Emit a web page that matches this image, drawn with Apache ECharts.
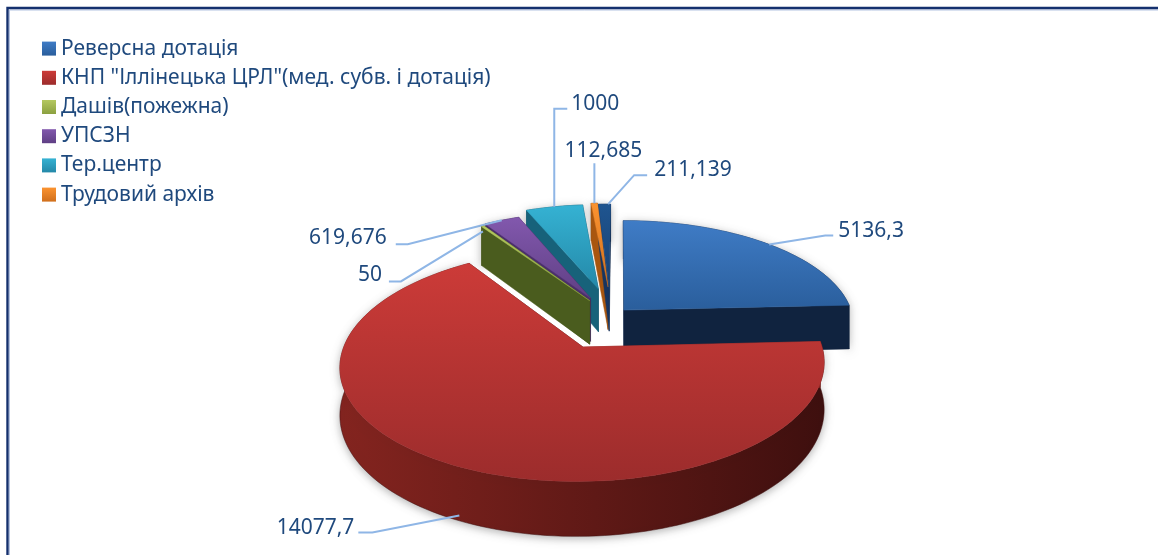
<!DOCTYPE html>
<html><head><meta charset="utf-8">
<style>html,body{margin:0;padding:0;background:#fff}#c{width:1158px;height:555px}</style>
<script src="https://cdn.jsdelivr.net/npm/echarts@6/dist/echarts.min.js"></script>
</head><body><div id="c"></div>
<script>
const categories = ['Реверсна дотація','КНП "Іллінецька ЦРЛ"(мед. субв. і дотація)','Дашів(пожежна)','УПСЗН','Тер.центр','Трудовий архів',''];
const values = [5136.3,14077.7,50,619.676,1000,112.685,211.139];

// drawing configuration: how far each slice is pulled out of the pie, in radius units
const explode = [[0.017,0.142],[-0.155,-0.1995],[-0.135,0.235],[-0.132,0.262],[-0.098,0.354],[-0.054,0.375],[-0.049,0.36]];
const topColors = [['#3f7cc6','#2a5e9c'],['#cc3b38','#9c2c2c'],['#b4c860','#8ba040'],['#8258ad','#5f3f84'],['#35b2d3','#2488a8'],['#fb9330','#d06f1c'],['#1f5590','#173f70']];
const wallColors = [['#13294b','#10233f'],['#84241f','#3e0f0e'],['#4a5c1e','#3c4e1a'],['#4b2f6b','#2f1d47'],['#17627a','#0f4658'],['#a9560f','#6f380a'],['#173560','#0f2444']];
const labelLayout = [
  {t:0.517,z:0,   d:[56,-9],  e:[8,0],  tx:[69,-13],anchor:'left'},
  {t:0.493,z:0.9, d:[-87,17], e:[-14,0],tx:[-105,13],anchor:'right'},
  {t:0.5,  z:0.13,d:[-82,50], e:[-12,0],tx:[-101,44],anchor:'right'},
  {t:0.5,  z:0,   d:[-94,24], e:[-12,0],tx:[-115,18],anchor:'right'},
  {t:0.5,  z:0,   d:[0,-98],  e:[13,0], tx:[17,-103],anchor:'left'},
  {t:0.5,  z:0,   d:[0,-40],  e:null,   tx:[9,-52],anchor:'middle'},
  {t:0.8,  z:0,   d:[26,-29], e:[13,0], tx:[46,-34],anchor:'left'}
];
const cx=620, cy=325, Rx=232, Ry=107, k=0.15, D=45;
const labelFont='21px "Noto Sans"';

const total = values.reduce((a,b)=>a+b,0);
const starts = []; values.reduce((a,v,i)=>{starts[i]=a;return a+v/total*Math.PI*2;},0);
function proj(U,V,z){const s=1/(1+k*V);return [cx+Rx*U*s, cy-Ry*V*s+z*D*s];}
function lg(x,y,x2,y2,c){return new echarts.graphic.LinearGradient(x,y,x2,y2,[{offset:0,color:c[0]},{offset:1,color:c[1]}]);}

function renderSlice(idx){
  return function(params,api){
    const val=api.value(0);
    const a0=starts[idx], a1=a0+val/total*Math.PI*2;
    const ou=explode[idx][0], ov=explode[idx][1];
    const rim=(t,z)=>proj(ou+Math.sin(t),ov+Math.cos(t),z);
    const apex=z=>proj(ou,ov,z);
    const n=Math.max(2,Math.ceil((a1-a0)/0.03));
    const arcTop=[],arcBot=[];
    for(let i=0;i<=n;i++){const t=a0+(a1-a0)*i/n;arcTop.push(rim(t,0));arcBot.push(rim(t,1));}
    const kids=[];
    const poly=(pts,fill,z2,extra)=>kids.push({type:'polygon',shape:{points:pts},style:Object.assign({fill:fill,stroke:fill,lineWidth:0.5},extra||{}),z2:z2,silent:true});
    const wallFill=lg(0,0,1,0,wallColors[idx]);
    poly(arcTop.concat(arcBot.slice().reverse()),wallFill,0,{stroke:wallColors[idx][1],shadowBlur:8,shadowColor:'rgba(0,0,0,0.3)',shadowOffsetY:2});
    poly([apex(0),rim(a1,0),rim(a1,1),apex(1)],wallColors[idx][1],1);
    poly([apex(0),rim(a0,0),rim(a0,1),apex(1)],wallColors[idx][0],2);
    poly([apex(0)].concat(arcTop),lg(0,0,0,1,topColors[idx]),3);
    const L=labelLayout[idx];
    const at=a0+(a1-a0)*L.t;
    const p=rim(at,L.z);
    const q=[p[0]+L.d[0],p[1]+L.d[1]];
    const pts=[p,q]; if(L.e)pts.push([q[0]+L.e[0],q[1]+L.e[1]]);
    kids.push({type:'polyline',shape:{points:pts},style:{fill:null,stroke:'#8fb6e6',lineWidth:2},z2:5,silent:true});
    kids.push({type:'text',style:{x:p[0]+L.tx[0],y:p[1]+L.tx[1],text:String(val).replace('.',','),fill:'#1f497d',font:labelFont,align:L.anchor,verticalAlign:'middle'},z2:6,silent:true});
    return {type:'group',children:kids};
  };
}

const series = values.map((v,i)=>({
  type:'custom', name:categories[i], coordinateSystem:'none',
  z:Math.round((2-Math.cos(starts[i]+v/total*Math.PI))*100),
  renderItem:renderSlice(i), data:[[v]], animation:false, silent:true,
  itemStyle:{color:topColors[i][0]}
}));

const chart = echarts.init(document.getElementById('c'),null,{renderer:'canvas'});
chart.setOption({
  animation:false,
  backgroundColor:'#fff',
  legend:{
    orient:'vertical',left:42,top:38,padding:0,itemWidth:14,itemHeight:14,itemGap:8,
    icon:'rect',selectedMode:false,
    textStyle:{color:'#1f497d',fontFamily:'"Noto Sans"',fontSize:21,lineHeight:21.2},
    data:categories.slice(0,6).map((c,i)=>({name:c,itemStyle:{color:lg(0,0,0,1,topColors[i])}}))
  },
  graphic:[
    {type:'rect',shape:{x:9.5,y:10,width:1300,height:700},style:{fill:null,stroke:'#b4c3e2',lineWidth:1},silent:true,z:-2},
    {type:'rect',shape:{x:7.5,y:8,width:1300,height:700},style:{fill:null,stroke:'#14306e',lineWidth:2.4},silent:true,z:-1}
  ],
  series:series
});
</script></body></html>
